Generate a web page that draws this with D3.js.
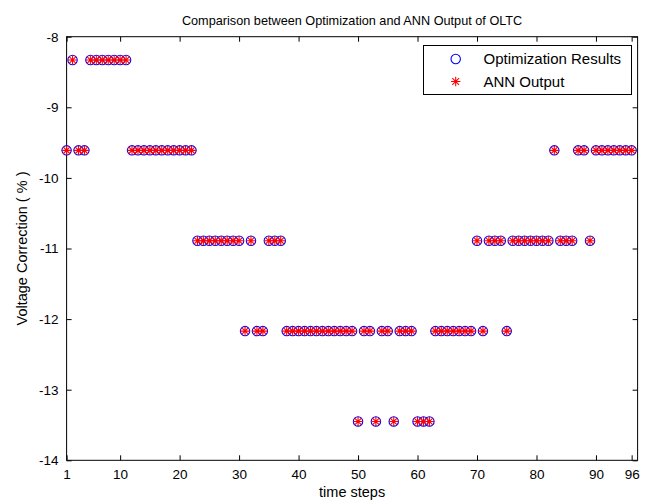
<!DOCTYPE html>
<html>
  <head>
    <meta charset="utf-8">
    <script src="https://cdnjs.cloudflare.com/ajax/libs/d3/7.8.5/d3.min.js"></script>
<style>
  body { margin: 0; background: #fff; }
  svg text { font-family: "Liberation Sans", Arial, sans-serif; fill: #000; }
</style>
  </head>
  <body>
    <div id="vis"></div>
    <script type="text/javascript">

        // time step index (1..96) and the tap correction per step
        const timeSteps = [
             1,  2,  3,  4,  5,  6,  7,  8,  9, 10,
            11, 12, 13, 14, 15, 16, 17, 18, 19, 20,
            21, 22, 23, 24, 25, 26, 27, 28, 29, 30,
            31, 32, 33, 34, 35, 36, 37, 38, 39, 40,
            41, 42, 43, 44, 45, 46, 47, 48, 49, 50,
            51, 52, 53, 54, 55, 56, 57, 58, 59, 60,
            61, 62, 63, 64, 65, 66, 67, 68, 69, 70,
            71, 72, 73, 74, 75, 76, 77, 78, 79, 80,
            81, 82, 83, 84, 85, 86, 87, 88, 89, 90,
            91, 92, 93, 94, 95, 96];

        const optimization = [
            -9.61, -8.33, -9.61, -9.61, -8.33, -8.33, -8.33, -8.33, -8.33, -8.33,
            -8.33, -9.61, -9.61, -9.61, -9.61, -9.61, -9.61, -9.61, -9.61, -9.61,
            -9.61, -9.61, -10.89, -10.89, -10.89, -10.89, -10.89, -10.89, -10.89, -10.89,
            -12.17, -10.89, -12.17, -12.17, -10.89, -10.89, -10.89, -12.17, -12.17, -12.17,
            -12.17, -12.17, -12.17, -12.17, -12.17, -12.17, -12.17, -12.17, -12.17, -13.45,
            -12.17, -12.17, -13.45, -12.17, -12.17, -13.45, -12.17, -12.17, -12.17, -13.45,
            -13.45, -13.45, -12.17, -12.17, -12.17, -12.17, -12.17, -12.17, -12.17, -10.89,
            -12.17, -10.89, -10.89, -10.89, -12.17, -10.89, -10.89, -10.89, -10.89, -10.89,
            -10.89, -10.89, -9.61, -10.89, -10.89, -10.89, -9.61, -9.61, -10.89, -9.61,
            -9.61, -9.61, -9.61, -9.61, -9.61, -9.61];

        const annOutput = [
            -9.61, -8.33, -9.61, -9.61, -8.33, -8.33, -8.33, -8.33, -8.33, -8.33,
            -8.33, -9.61, -9.61, -9.61, -9.61, -9.61, -9.61, -9.61, -9.61, -9.61,
            -9.61, -9.61, -10.89, -10.89, -10.89, -10.89, -10.89, -10.89, -10.89, -10.89,
            -12.17, -10.89, -12.17, -12.17, -10.89, -10.89, -10.89, -12.17, -12.17, -12.17,
            -12.17, -12.17, -12.17, -12.17, -12.17, -12.17, -12.17, -12.17, -12.17, -13.45,
            -12.17, -12.17, -13.45, -12.17, -12.17, -13.45, -12.17, -12.17, -12.17, -13.45,
            -13.45, -13.45, -12.17, -12.17, -12.17, -12.17, -12.17, -12.17, -12.17, -10.89,
            -12.17, -10.89, -10.89, -10.89, -12.17, -10.89, -10.89, -10.89, -10.89, -10.89,
            -10.89, -10.89, -9.61, -10.89, -10.89, -10.89, -9.61, -9.61, -10.89, -9.61,
            -9.61, -9.61, -9.61, -9.61, -9.61, -9.61];

        const xTicks = [1, 10, 20, 30, 40, 50, 60, 70, 80, 90, 96];
        const yTicks = [-14, -13, -12, -11, -10, -9, -8];
        const seriesNames = ["Optimization Results", "ANN Output"];

        const width = 647;
        const height = 502;
        const svg = d3.select("#vis").append("svg")
            .attr("width", width)
            .attr("height", height);

        const padLeft = 66.6, padRight = 637.6, padTop = 36.7, padBottom = 460.3;
        const xScale = d3.scaleLinear().domain([1, 97]).range([padLeft, padRight]);
        const yScale = d3.scaleLinear().domain([-14, -8]).range([padBottom, padTop]);

        // axes, MATLAB style: ticks pointing inwards on all four sides
        const tickFs = "13.5px";
        const gx = svg.append("g").attr("transform", "translate(0," + padBottom + ")")
            .call(d3.axisBottom(xScale).tickValues(xTicks).tickSize(-5).tickPadding(9).tickFormat(d => String(d)));
        const gy = svg.append("g").attr("transform", "translate(" + padLeft + ",0)")
            .call(d3.axisLeft(yScale).tickValues(yTicks).tickSize(-5).tickPadding(8).tickFormat(d => String(d)));
        const gt = svg.append("g").attr("transform", "translate(0," + padTop + ")")
            .call(d3.axisTop(xScale).tickValues(xTicks).tickSize(-5).tickFormat(""));
        const gr = svg.append("g").attr("transform", "translate(" + padRight + ",0)")
            .call(d3.axisRight(yScale).tickValues(yTicks).tickSize(-5).tickFormat(""));
        [gx, gy, gt, gr].forEach(g => {
            g.select(".domain").remove();
            g.selectAll("line").attr("stroke", "#000");
            g.selectAll("text").attr("font-size", tickFs).attr("font-family", "Liberation Sans, Arial, sans-serif");
        });
        svg.append("rect")
            .attr("x", padLeft).attr("y", padTop)
            .attr("width", padRight - padLeft).attr("height", padBottom - padTop)
            .attr("fill", "none").attr("stroke", "#000").attr("stroke-width", 1);

        // star marker ('*'): plus and cross
        function starPath(cx, cy, r) {
            const d = r * 0.72;
            return "M" + (cx - r) + "," + cy + "H" + (cx + r) +
                "M" + cx + "," + (cy - r) + "V" + (cy + r) +
                "M" + (cx - d) + "," + (cy - d) + "L" + (cx + d) + "," + (cy + d) +
                "M" + (cx - d) + "," + (cy + d) + "L" + (cx + d) + "," + (cy - d);
        }

        svg.append("g").selectAll("circle")
            .data(timeSteps)
            .join("circle")
            .attr("cx", (t, i) => xScale(t))
            .attr("cy", (t, i) => yScale(optimization[i]))
            .attr("r", 4.7)
            .attr("fill", "none")
            .attr("stroke", "#0000ff")
            .attr("stroke-width", 1.1);

        svg.append("g").selectAll("path")
            .data(timeSteps)
            .join("path")
            .attr("d", (t, i) => starPath(xScale(t), yScale(annOutput[i]), 4.7))
            .attr("fill", "none")
            .attr("stroke", "#ff0000")
            .attr("stroke-width", 1.1);

        // legend
        const legendFs = "15px";
        const lg = svg.append("g");
        lg.append("rect")
            .attr("x", 423.5).attr("y", 45.5).attr("width", 208).attr("height", 49)
            .attr("fill", "#fff").attr("stroke", "#000").attr("stroke-width", 1);
        lg.append("circle").attr("cx", 455.7).attr("cy", 59).attr("r", 4.7)
            .attr("fill", "none").attr("stroke", "#0000ff").attr("stroke-width", 1.1);
        lg.append("path").attr("d", starPath(455.7, 81.5, 4.7))
            .attr("fill", "none").attr("stroke", "#ff0000").attr("stroke-width", 1.1);
        lg.selectAll("text")
            .data(seriesNames)
            .join("text")
            .attr("x", 483.5)
            .attr("y", (d, i) => 59 + i * 22.5)
            .attr("dy", "0.35em")
            .attr("font-size", legendFs)
            .text(d => d);

        // title and axis labels
        svg.append("text")
            .attr("x", (padLeft + padRight) / 2).attr("y", 24.5)
            .attr("text-anchor", "middle").attr("font-size", "12.7px")
            .text("Comparison between Optimization and ANN Output of OLTC");
        svg.append("text")
            .attr("x", (padLeft + padRight) / 2).attr("y", 497)
            .attr("text-anchor", "middle").attr("font-size", "14.5px")
            .text("time steps");
        svg.append("text")
            .attr("transform", "translate(27," + ((padTop + padBottom) / 2) + ") rotate(-90)")
            .attr("text-anchor", "middle").attr("font-size", "14.5px")
            .text("Voltage Correction ( % )");

    </script>
  </body>
</html>
